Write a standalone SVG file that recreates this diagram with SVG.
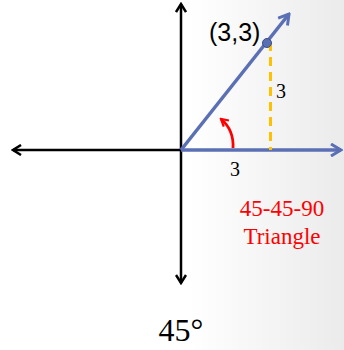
<svg xmlns="http://www.w3.org/2000/svg" width="344" height="350" viewBox="0 0 344 350">
<defs>
<linearGradient id="bg" x1="0" y1="0" x2="1" y2="0">
<stop offset="0.55" stop-color="#ffffff"/>
<stop offset="1" stop-color="#ebebeb"/>
</linearGradient>
<marker id="ak" viewBox="0 0 12 12" refX="10" refY="6" markerWidth="12" markerHeight="12" markerUnits="userSpaceOnUse" orient="auto">
<path d="M2,1 L10,6 L2,11" fill="none" stroke="#000" stroke-width="2.5"/>
</marker>
<marker id="ab" viewBox="0 0 14 14" refX="12" refY="7" markerWidth="14" markerHeight="14" markerUnits="userSpaceOnUse" orient="auto">
<path d="M2,1 L12,7 L2,13" fill="none" stroke="#5b6fb5" stroke-width="3"/>
</marker>
<marker id="ar" viewBox="0 0 10 10" refX="8" refY="5" markerWidth="10" markerHeight="10" markerUnits="userSpaceOnUse" orient="auto">
<path d="M1,1 L8,5 L1,9" fill="none" stroke="#ff0000" stroke-width="2.2"/>
</marker>
</defs>
<style>
.ax{stroke:#000;stroke-width:2.5;fill:none}
.bl{stroke:#5b6fb5;stroke-width:3.5;fill:none}
.serif{font-family:"Liberation Serif","DejaVu Serif",serif}
.sans{font-family:"Liberation Sans",Arial,sans-serif}
</style>
<rect width="344" height="350" fill="url(#bg)"/>
<g id="connectors">
<line class="ax" x1="181" y1="150" x2="181" y2="4" marker-end="url(#ak)"/>
<line class="ax" x1="181" y1="150" x2="181" y2="283" marker-end="url(#ak)"/>
<line class="ax" x1="181" y1="150" x2="13" y2="150" marker-end="url(#ak)"/>
<line class="bl" x1="181" y1="150" x2="341" y2="150" marker-end="url(#ab)"/>
<line class="bl" x1="181" y1="150" x2="289" y2="14" marker-end="url(#ab)"/>
<line x1="270.5" y1="42" x2="270.5" y2="150" stroke="#ffc000" stroke-width="3" stroke-dasharray="9,6"/>
<path d="M233,148 Q234,130 221,119" fill="none" stroke="#ff0000" stroke-width="2.8" marker-end="url(#ar)"/>
</g>
<g id="point">
<circle cx="267" cy="43" r="4.5" fill="#5b6fb5" stroke="#3b4f85" stroke-width="1"/>
<text x="209" y="41" class="sans" font-size="25" fill="#000">(3,3)</text>
</g>
<g id="labels">
<text x="276" y="98" class="serif" font-size="20" fill="#000">3</text>
<text x="230" y="176" class="serif" font-size="20" fill="#000">3</text>
<text x="282" y="216" class="serif" font-size="23" fill="#ff0000" text-anchor="middle">45-45-90</text>
<text x="282" y="244" class="serif" font-size="23" fill="#ff0000" text-anchor="middle">Triangle</text>
<text x="181" y="341" class="serif" font-size="32" fill="#000" text-anchor="middle">45°</text>
</g>
</svg>
